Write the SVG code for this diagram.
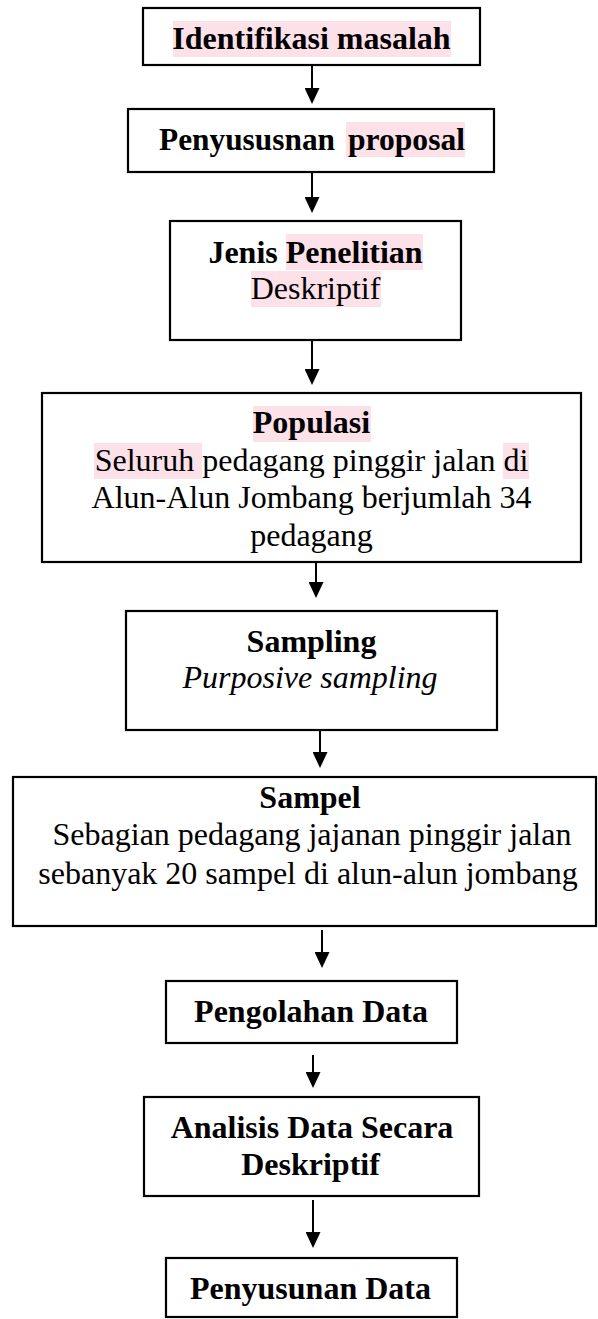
<svg xmlns="http://www.w3.org/2000/svg" width="598" height="1319" viewBox="0 0 598 1319">
<defs>
<style>
.box{fill:#ffffff;stroke:#000000;stroke-width:2.2}
.hl{fill:#fde1e9}
.t{font-family:"Liberation Serif","Times New Roman",serif;font-size:32px;fill:#000000;text-anchor:middle}
.b{font-weight:bold}
.i{font-style:italic}
.arr{stroke:#000000;stroke-width:2;fill:none;marker-end:url(#ah)}
</style>
<marker id="ah" markerUnits="userSpaceOnUse" markerWidth="16" markerHeight="15" viewBox="0 0 16 15" refX="11" refY="7.5" orient="auto">
<path d="M0,0 L16,7.5 L0,15 Z" fill="#000000"/>
</marker>
</defs>
<rect width="598" height="1319" fill="#ffffff"/>
<g id="connectors">
<line class="arr" x1="312" y1="65" x2="312" y2="99"/>
<line class="arr" x1="312" y1="172" x2="312" y2="208"/>
<line class="arr" x1="312" y1="340" x2="312" y2="380"/>
<line class="arr" x1="316" y1="562" x2="316" y2="593"/>
<line class="arr" x1="320" y1="730" x2="320" y2="763"/>
<line class="arr" x1="322" y1="930" x2="322" y2="963"/>
<line class="arr" x1="313" y1="1055" x2="313" y2="1083"/>
<line class="arr" x1="313" y1="1200" x2="313" y2="1243"/>
</g>
<g id="n1">
<rect class="box" x="143" y="8" width="337" height="57"/>
<rect class="hl" x="173" y="21" width="278" height="36"/>
<text class="t b" x="311.5" y="49">Identifikasi masalah</text>
</g>
<g id="n2">
<rect class="box" x="128" y="109" width="366" height="63"/>
<rect class="hl" x="346" y="122" width="119" height="35"/>
<text class="t b" style="text-anchor:start" y="150"><tspan x="159" textLength="176" lengthAdjust="spacingAndGlyphs">Penyususnan</tspan><tspan x="348" textLength="117" lengthAdjust="spacingAndGlyphs">proposal</tspan></text>
</g>
<g id="n3">
<rect class="box" x="170" y="221" width="291" height="119"/>
<rect class="hl" x="286" y="234" width="137" height="36"/>
<rect class="hl" x="251" y="271" width="130" height="36"/>
<text class="t b" x="315.5" y="263">Jenis Penelitian</text>
<text class="t" x="315.5" y="299">Deskriptif</text>
</g>
<g id="n4">
<rect class="box" x="42" y="393" width="539" height="169"/>
<rect class="hl" x="253" y="406" width="118" height="36"/>
<rect class="hl" x="94" y="443" width="108" height="36"/>
<rect class="hl" x="503" y="443" width="26" height="36"/>
<text class="t b" x="311.5" y="433">Populasi</text>
<text class="t" x="311.5" y="471">Seluruh pedagang pinggir jalan di</text>
<text class="t" x="311.5" y="508">Alun-Alun Jombang berjumlah 34</text>
<text class="t" x="311.5" y="546">pedagang</text>
</g>
<g id="n5">
<rect class="box" x="126" y="611" width="371" height="119"/>
<text class="t b" x="311.5" y="652">Sampling</text>
<text class="t i" x="310" y="688">Purposive sampling</text>
</g>
<g id="n6">
<rect class="box" x="13" y="777" width="583" height="149"/>
<text class="t b" x="310" y="808">Sampel</text>
<text class="t" x="312" y="845">Sebagian pedagang jajanan pinggir jalan</text>
<text class="t" x="308" y="884">sebanyak 20 sampel di alun-alun jombang</text>
</g>
<g id="n7">
<rect class="box" x="166" y="981" width="291" height="62"/>
<text class="t b" x="311" y="1022">Pengolahan Data</text>
</g>
<g id="n8">
<rect class="box" x="144" y="1097" width="335" height="99"/>
<text class="t b" x="312" y="1138">Analisis Data Secara</text>
<text class="t b" x="310.5" y="1175">Deskriptif</text>
</g>
<g id="n9">
<rect class="box" x="166" y="1258" width="291" height="59"/>
<text class="t b" x="310.5" y="1299">Penyusunan Data</text>
</g>
</svg>
